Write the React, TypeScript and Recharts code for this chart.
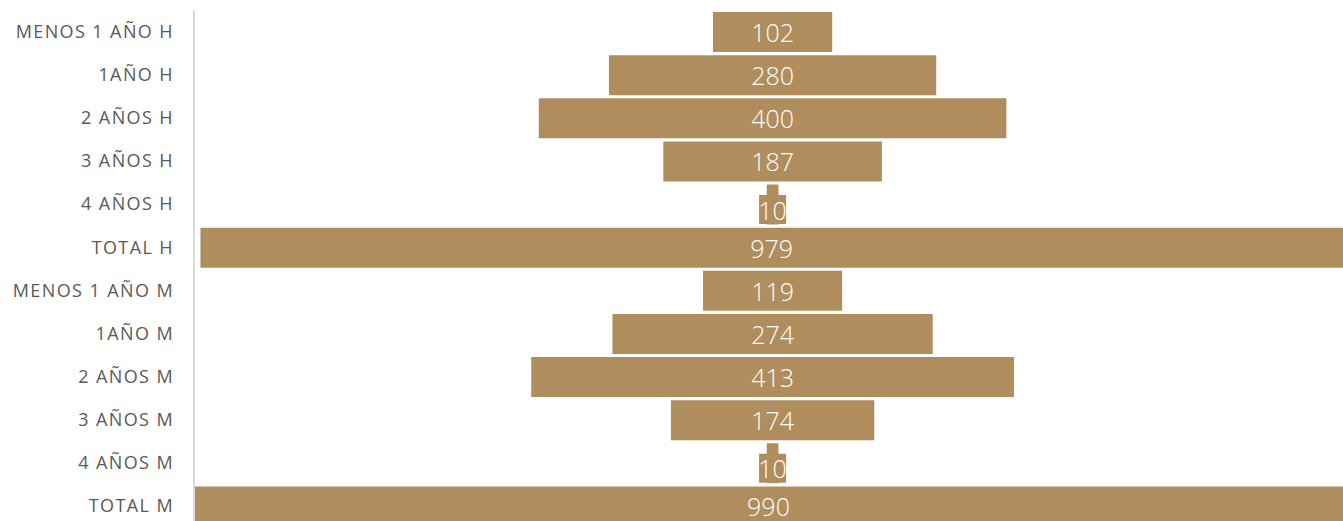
import { Bar, BarChart, LabelList, XAxis, YAxis } from "recharts";

const categories = [
  "MENOS 1 AÑO H",
  "1AÑO H",
  "2 AÑOS H",
  "3 AÑOS H",
  "4 AÑOS H",
  "TOTAL H",
  "MENOS 1 AÑO M",
  "1AÑO M",
  "2 AÑOS M",
  "3 AÑOS M",
  "4 AÑOS M",
  "TOTAL M",
];
const values = [102, 280, 400, 187, 10, 979, 119, 274, 413, 174, 10, 990];

const GOLD = "#B08D5C";
const peak = Math.max(...values);
const data = categories.map((name, i) => ({
  name,
  pad: (peak - values[i]) / 2,
  value: values[i],
}));

function ValueLabel(props: any) {
  const { x, y, width, height, value } = props;
  const cx = x + width / 2;
  const cy = y + height / 2;
  const text = String(value);
  const boxW = text.length * 13 + 1;
  const small = boxW > width;
  const by = small ? cy + 5 : cy;
  return (
    <g>
      <rect x={cx - boxW / 2} y={by - 14.5} width={boxW} height={29} fill={GOLD} />
      <text
        x={cx}
        y={by}
        textAnchor="middle"
        dominantBaseline="central"
        fill="#ffffff"
        fontSize={25}
        fontWeight={300}
        fontFamily="'Open Sans', sans-serif"
      >
        {text}
      </text>
    </g>
  );
}

export default function App() {
  return (
    <div style={{ position: "absolute", left: 0, top: 0, width: 1343, height: 521, overflow: "hidden", background: "#fff" }}>
      <BarChart
        width={1343}
        height={540}
        data={data}
        layout="vertical"
        margin={{ top: 10, right: 0, bottom: 12.5, left: 0 }}
        barSize={40}
      >
        <XAxis type="number" hide domain={[0, 983]} allowDataOverflow />
        <YAxis
          type="category"
          dataKey="name"
          width={194}
          tickLine={false}
          tickSize={0}
          tickMargin={20}
          axisLine={{ stroke: "#d9d9d9", strokeWidth: 2 }}
          tick={{ fill: "#595959", fontSize: 18, letterSpacing: 1.4, fontFamily: "'Open Sans', sans-serif" }}
          interval={0}
        />
        <Bar dataKey="pad" stackId="a" fill="transparent" isAnimationActive={false} />
        <Bar dataKey="value" stackId="a" fill={GOLD} isAnimationActive={false}>
          <LabelList dataKey="value" content={<ValueLabel />} />
        </Bar>
      </BarChart>
    </div>
  );
}
